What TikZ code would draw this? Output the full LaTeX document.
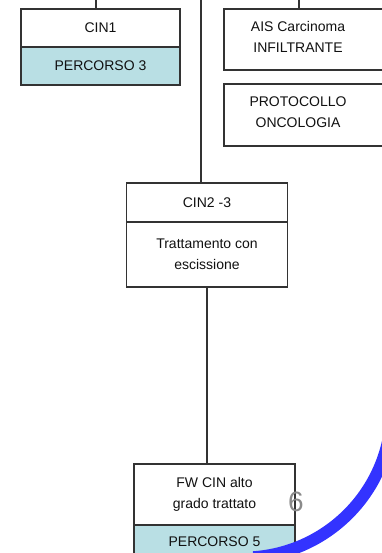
\documentclass[tikz,border=0pt]{standalone}
\usepackage{fontspec}
\setmainfont{Liberation Sans}
\usetikzlibrary{positioning,calc}
\definecolor{Edge}{HTML}{333333}
\definecolor{Ink}{HTML}{111111}
\definecolor{Percorso}{HTML}{B9DFE4}
\definecolor{SlideBlue}{HTML}{3333FF}
\definecolor{PageGray}{HTML}{8A8A8A}

\begin{document}
\begin{tikzpicture}[x=1pt,y=-1pt,font=\fontsize{14}{20.5}\selectfont,text=Ink,
    box/.style={draw=Edge,line width=1.6pt,fill=white,minimum width=161pt,inner sep=0pt,outer sep=0pt,align=center},
    pbox/.style={box,fill=Percorso,minimum height=38pt},
    cutbox/.style={box,minimum width=176pt,anchor=north west},
    txt/.style={align=center,inner sep=0pt},
    link/.style={draw=Edge,line width=1.8pt},
    slidearc/.style={draw=SlideBlue,line width=12pt}]
    \path[use as bounding box,clip] (0,0) rectangle (382,553);
    % left branch
    \node[box,minimum width=159pt,minimum height=38pt] (cin1) at (100.5,28) {CIN1};
    \node[pbox,minimum width=159pt,below=0pt of cin1] (perc3) {PERCORSO 3};
    % right branch, boxes run off the slide
    \node[cutbox,minimum height=61pt] (ais) at (224,9) {};
    \node[txt] (aistxt) at (298,37) {AIS Carcinoma\\INFILTRANTE};
    \node[cutbox,minimum height=62pt] (prot) at (224,84) {};
    \node[txt] (prottxt) at (298,112) {PROTOCOLLO\\ONCOLOGIA};
    % middle
    \node[box,minimum height=39pt] (cin23) at (207,202.5) {CIN2 -3};
    \node[box,minimum height=65pt,below=0pt of cin23] (tratt) {Trattamento con\\escissione};
    \node[box,minimum height=61pt] (fw) at (214.5,494.5) {FW CIN alto\\grado trattato};
    \node[pbox,minimum height=34pt,below=0pt of fw] (perc5) {PERCORSO 5};
    % connectors
    \coordinate (top1) at (96,0);
    \coordinate (top2) at (201,0);
    \coordinate (top3) at (299,0);
    \draw[link] (top1) -- (top1 |- cin1.north);
    \draw[link] (top2) -- (top2 |- cin23.north);
    \draw[link] (top3) -- (top3 |- ais.north);
    \draw[link] (tratt.south) -- (tratt.south |- fw.north);
    % slide decoration
    \node[text=PageGray,font=\fontsize{28}{28}\selectfont,inner sep=0pt] (pagenum) at (296,502) {6};
    \coordinate (arcc) at (243,409);
    \draw[slidearc] ($(arcc)+(8:148.6)$) arc[start angle=8,end angle=86,radius=148.6];
\end{tikzpicture}
\end{document}
